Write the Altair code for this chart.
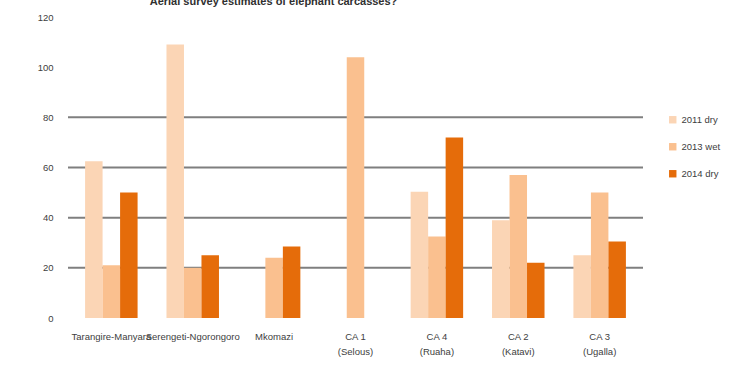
import altair as alt
import pandas as pd

# Survey areas (x categories) and the three survey seasons
areas = [
    "Tarangire-Manyara",
    "Serengeti-Ngorongoro",
    "Mkomazi",
    "CA 1\n(Selous)",
    "CA 4\n(Ruaha)",
    "CA 2\n(Katavi)",
    "CA 3\n(Ugalla)",
]
seasons = ["2011 dry", "2013 wet", "2014 dry"]

# Carcass estimates per season (None = not surveyed)
est_2011 = [62.5, 109, None, None, 50.3, 39, 25]
est_2013 = [21, 20, 24, 104, 32.5, 57, 50]
est_2014 = [50, 25, 28.5, None, 72, 22, 30.5]

colors = ["#FBD5B5", "#FAC08F", "#E56C0A"]
grid_values = [20, 40, 60, 80]

rows = []
for s, vals in zip(seasons, [est_2011, est_2013, est_2014]):
    for a, v in zip(areas, vals):
        if v is not None:
            rows.append({"area": a, "season": s, "value": v})
df = pd.DataFrame(rows)
grid_df = pd.DataFrame({"g": grid_values})

font = "Liberation Sans"

y_scale = alt.Scale(domain=[0, 120], nice=False)

grid = alt.Chart(grid_df).mark_rule(color="#7f7f7f", strokeWidth=2).encode(
    y=alt.Y("g:Q", scale=y_scale)
)

bars = alt.Chart(df).mark_bar().encode(
    x=alt.X(
        "area:N",
        sort=areas,
        title=None,
        scale=alt.Scale(paddingInner=0.355, paddingOuter=0.21),
        axis=alt.Axis(
            labelAngle=0,
            labelExpr="split(datum.label, '\\n')",
            labelOverlap=False,
            labelFontSize=9.5,
            labelColor="#404040",
            labelPadding=13,
            labelLineHeight=15,
            ticks=False,
            domain=False,
        ),
    ),
    xOffset=alt.XOffset("season:N", sort=seasons),
    y=alt.Y(
        "value:Q",
        scale=y_scale,
        title=None,
        axis=alt.Axis(
            values=[0, 20, 40, 60, 80, 100, 120],
            grid=False,
            domain=False,
            ticks=False,
            labelFontSize=9.5,
            labelColor="#404040",
            labelPadding=15,
        ),
    ),
    color=alt.Color(
        "season:N",
        sort=seasons,
        scale=alt.Scale(domain=seasons, range=colors),
        legend=alt.Legend(
            title=None,
            orient="none",
            legendX=600,
            legendY=98,
            symbolType="square",
            symbolSize=55,
            symbolStrokeWidth=0,
            labelFontSize=9.5,
            labelColor="#404040",
            rowPadding=16,
        ),
    ),
)

chart = (
    alt.layer(grid, bars)
    .properties(
        width=575,
        height=301,
        autosize=alt.AutoSizeParams(type="none"),
        padding={"left": 68, "top": 17, "right": 91, "bottom": 48},
        title=alt.TitleParams(
            "Aerial survey estimates of elephant carcasses?",
            fontSize=11,
            fontWeight="bold",
            color="#303030",
            font=font,
            anchor="middle",
            dx=-82,
            offset=5,
        ),
    )
    .configure(font=font)
    .configure_view(stroke=None)
)

chart.save("out.html", embed_options={"renderer": "svg", "actions": False})
